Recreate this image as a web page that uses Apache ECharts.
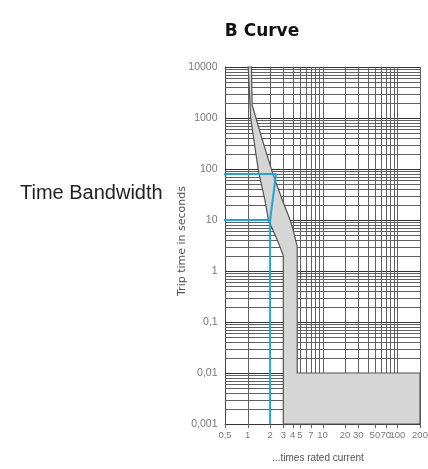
<!DOCTYPE html>
<html>
<head>
<meta charset="utf-8">
<title>B Curve</title>
<script src="https://cdn.jsdelivr.net/npm/echarts@6.0.0/dist/echarts.min.js"></script>
<style>
  html, body { margin: 0; padding: 0; background: #fff; }
  #chart { width: 428px; height: 469px; }
</style>
</head>
<body>
<div id="chart"></div>
<script>
// axis range (times rated current / seconds)
const X_MIN = 0.5, X_MAX = 200;
const Y_MIN = 0.001, Y_MAX = 10000;

// tick labels
const xTicks = [0.5, 1, 2, 3, 4, 5, 7, 10, 20, 30, 50, 70, 100, 200];
const yTicks = [0.001, 0.01, 0.1, 1, 10, 100, 1000, 10000];

// log grid lines
const xGrid = [1, 2, 3, 4, 5, 6, 7, 8, 9, 10, 20, 30, 40, 50, 60, 70, 80, 90, 100, 200];
const decades = [0.001, 0.01, 0.1, 1, 10, 100, 1000];
const mantissas = [1, 2, 3, 4, 5, 6, 7, 8, 9];
const yGrid = [];
decades.forEach(d => mantissas.forEach(m => yGrid.push(+(d * m).toPrecision(3))));
yGrid.push(Y_MAX);

// trip band outline: left edge (top -> bottom), floor, right edge (bottom -> top)
const leftEdge = [[1.02, 10000], [1.1, 1000], [1.4, 90], [1.7, 25], [1.9, 10], [2.5, 4], [3.0, 2.0], [3.0, 0.001]];
const floorEdge = [[200, 0.001], [200, 0.01]];
const rightEdge = [[4.6, 0.01], [4.6, 3], [4.1, 6], [3.7, 10], [2.9, 25], [2.15, 85], [1.55, 400], [1.15, 1800], [1.13, 10000]];

// time bandwidth marker lines
const markUpper = [[0.053, 80], [2.4, 80], [2.0, 10], [2.0, 0.001]];
const markLower = [[0.04, 10], [2.0, 10]];

const GRID_COLOR = '#606060';
const BLUE = '#1ea6dc';
const LABEL_FONT = '"Liberation Sans", Arial, sans-serif';

const fmt = v => String(v).replace('.', ',');
const crisp = v => Math.round(v) + 0.5;

const chart = echarts.init(document.getElementById('chart'));

const option = {
  animation: false,
  backgroundColor: '#fff',
  grid: { left: 225, right: 8, top: 67, bottom: 45 },
  xAxis: {
    type: 'log', logBase: 10, min: X_MIN, max: X_MAX,
    axisLine: { show: true, lineStyle: { color: '#444', width: 1 } },
    axisTick: { show: false },
    axisLabel: { show: false },
    splitLine: { show: false }
  },
  yAxis: {
    type: 'log', logBase: 10, min: Y_MIN, max: Y_MAX,
    axisLine: { show: true, lineStyle: { color: '#444', width: 1 } },
    axisTick: { show: false },
    axisLabel: { show: false },
    splitLine: { show: false }
  },
  graphic: [
    {
      type: 'text', x: 262, y: 32,
      style: { text: 'B Curve', font: 'bold 17px "DejaVu Sans", sans-serif', fill: '#111', textAlign: 'center', textVerticalAlign: 'middle' }
    },
    {
      type: 'text', x: 20, y: 193,
      style: { text: 'Time Bandwidth', font: '20px "Liberation Sans", Arial, sans-serif', fill: '#222', textAlign: 'left', textVerticalAlign: 'middle' }
    },
    {
      type: 'text', x: 182, y: 241, rotation: Math.PI / 2,
      style: { text: 'Trip time in seconds', font: '11px "DejaVu Sans", sans-serif', fill: '#555', textAlign: 'center', textVerticalAlign: 'middle' }
    },
    {
      type: 'text', x: 318, y: 458,
      style: { text: '...times rated current', font: '10px "Liberation Sans", Arial, sans-serif', fill: '#555', textAlign: 'center', textVerticalAlign: 'middle' }
    }
  ],
  series: [
    {
      // horizontal grid lines
      type: 'custom', silent: true, z: 1,
      data: yGrid.map(v => [X_MIN, v]),
      renderItem: (params, api) => {
        const v = api.value(1);
        const a = api.coord([X_MIN, v]), b = api.coord([X_MAX, v]);
        const major = yTicks.indexOf(v) >= 0;
        return {
          type: 'line',
          shape: { x1: a[0], y1: crisp(a[1]), x2: b[0], y2: crisp(b[1]) },
          style: { stroke: major ? '#333' : GRID_COLOR, lineWidth: 1 }
        };
      }
    },
    {
      // vertical grid lines
      type: 'custom', silent: true, z: 1,
      data: xGrid.map(v => [v, Y_MIN]),
      renderItem: (params, api) => {
        const v = api.value(0);
        const a = api.coord([v, Y_MIN]), b = api.coord([v, Y_MAX]);
        return {
          type: 'line',
          shape: { x1: crisp(a[0]), y1: a[1], x2: crisp(b[0]), y2: b[1] },
          style: { stroke: GRID_COLOR, lineWidth: 1 }
        };
      }
    },
    {
      // small ticks below the x axis
      type: 'custom', silent: true, z: 1,
      data: xTicks.map(v => [v, Y_MIN]),
      renderItem: (params, api) => {
        const a = api.coord([api.value(0), Y_MIN]);
        return {
          type: 'line',
          shape: { x1: crisp(a[0]), y1: a[1], x2: crisp(a[0]), y2: a[1] + 4 },
          style: { stroke: '#666', lineWidth: 1 }
        };
      }
    },
    {
      // trip band
      type: 'custom', silent: true, z: 3,
      data: [[X_MIN, Y_MIN]],
      renderItem: (params, api) => ({
        type: 'polygon',
        shape: { points: leftEdge.concat(floorEdge, rightEdge).map(p => api.coord(p)) },
        style: { fill: '#d6d6d6', stroke: '#555', lineWidth: 1.2 }
      })
    },
    {
      type: 'line', silent: true, z: 4, clip: false,
      data: markUpper, symbol: 'none',
      lineStyle: { color: BLUE, width: 2 }
    },
    {
      type: 'line', silent: true, z: 4, clip: false,
      data: markLower, symbol: 'none',
      lineStyle: { color: BLUE, width: 2 }
    },
    {
      // y tick labels
      type: 'scatter', silent: true, z: 5, clip: false,
      data: yTicks.map(v => [X_MIN, v]),
      symbolSize: 1, itemStyle: { color: 'rgba(0,0,0,0)' },
      label: {
        show: true, position: 'left', distance: 7,
        formatter: p => fmt(p.value[1]),
        fontFamily: LABEL_FONT, fontSize: 10.5, color: '#555'
      }
    },
    {
      // x tick labels
      type: 'scatter', silent: true, z: 5, clip: false,
      data: xTicks.map(v => [v, Y_MIN]),
      symbolSize: 1, itemStyle: { color: 'rgba(0,0,0,0)' },
      label: {
        show: true, position: 'bottom', distance: 6,
        formatter: p => fmt(p.value[0]),
        fontFamily: LABEL_FONT, fontSize: 9.5, color: '#555'
      }
    }
  ]
};

chart.setOption(option);
</script>
</body>
</html>
